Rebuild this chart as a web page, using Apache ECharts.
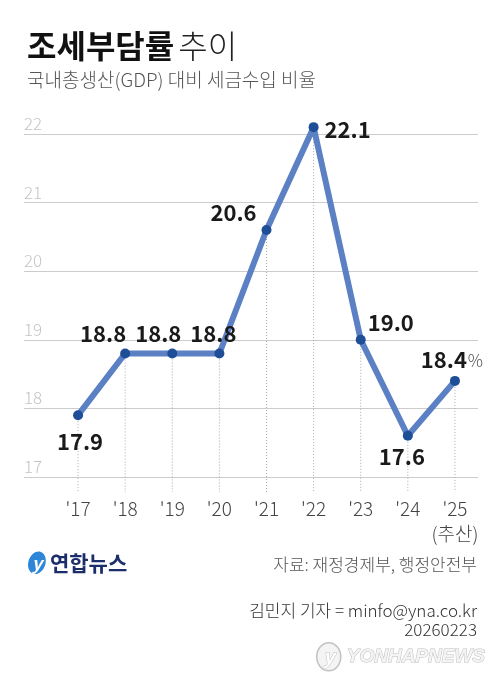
<!DOCTYPE html>
<html>
<head>
<meta charset="utf-8">
<script src="https://cdn.jsdelivr.net/npm/echarts@6/dist/echarts.min.js"></script>
<style>
  html, body { margin: 0; padding: 0; background: #fff; }
  #main { width: 499px; height: 687px; }
</style>
</head>
<body>
<div id="main"></div>
<script>
// data
var years = ["'17", "'18", "'19", "'20", "'21", "'22", "'23", "'24", "'25\n(추산)"];
var taxBurden = [17.9, 18.8, 18.8, 18.8, 20.6, 22.1, 19.0, 17.6, 18.4];
var yTicks = [17, 18, 19, 20, 21, 22];

// label placement around each point (dx, dy)
var labelOffsets = [[2, 26], [-22, -20], [-14, -20], [-6, -20], [-33, -17], [34, 3], [30, -17], [-6, 21], [-3, -21]];

var FONT = '"Noto Sans CJK KR", "Noto Sans", sans-serif';
var chartDom = document.getElementById('main');
var myChart = echarts.init(chartDom);
var option;

var lineData = taxBurden.map(function (v, i) {
  var item = { value: v, label: { offset: labelOffsets[i] } };
  if (i === taxBurden.length - 1) {
    item.label.formatter = '{v|' + v.toFixed(1) + '}{p|%}';
  }
  return item;
});

option = {
  backgroundColor: '#fff',
  textStyle: { fontFamily: FONT },
  title: {
    left: 22,
    top: 25,
    text: '{b|조세부담률} {r|추이}',
    subtext: '국내총생산(GDP) 대비 세금수입 비율',
    itemGap: 8,
    textStyle: {
      rich: {
        b: { fontFamily: FONT, fontSize: 32, fontWeight: 'bold', color: '#111' },
        r: { fontFamily: FONT, fontSize: 32, fontWeight: 300, color: '#222' }
      }
    },
    subtextStyle: { fontFamily: FONT, fontSize: 19, fontWeight: 300, color: '#555' }
  },
  grid: [
    { left: 24, right: 21, top: 134, bottom: 210 },
    { left: 54.5, right: 20.5, top: 99.7, bottom: 195 }
  ],
  xAxis: [
    { gridIndex: 0, type: 'value', show: false, min: 0, max: 1 },
    {
      gridIndex: 1,
      type: 'category',
      data: years,
      axisLine: { show: false },
      axisTick: { show: false },
      axisLabel: {
        interval: 0,
        margin: 4,
        fontSize: 19,
        fontWeight: 300,
        lineHeight: 25,
        color: '#444',
        fontFamily: FONT
      }
    }
  ],
  yAxis: [
    {
      gridIndex: 0,
      type: 'value',
      min: yTicks[0],
      max: yTicks[yTicks.length - 1],
      interval: 1,
      axisLine: { show: false },
      axisTick: { show: false },
      splitLine: { lineStyle: { color: '#cccccc', width: 1 } },
      axisLabel: {
        inside: true,
        margin: 0,
        verticalAlign: 'bottom',
        padding: [0, 0, 2, 0],
        fontSize: 17,
        fontWeight: 300,
        color: '#c4c4c4',
        fontFamily: FONT
      }
    },
    { gridIndex: 1, type: 'value', show: false, min: 16.78, max: 22.5 }
  ],
  series: [
    {
      name: 'drop',
      type: 'custom',
      xAxisIndex: 1,
      yAxisIndex: 1,
      z: 1,
      silent: true,
      renderItem: function (params, api) {
        var top = api.coord([api.value(0), api.value(1)]);
        var bottomY = params.coordSys.y + params.coordSys.height;
        return {
          type: 'line',
          shape: { x1: top[0], y1: top[1], x2: top[0], y2: bottomY },
          style: { stroke: '#a8a8a8', lineWidth: 1, lineDash: [1, 2] }
        };
      },
      data: taxBurden.map(function (v, i) { return [i, v]; })
    },
    {
      name: '조세부담률',
      type: 'line',
      xAxisIndex: 1,
      yAxisIndex: 1,
      z: 3,
      symbol: 'circle',
      symbolSize: 10,
      itemStyle: { color: '#1d4e97' },
      lineStyle: { color: '#5b80c3', width: 6 },
      label: {
        show: true,
        position: 'inside',
        align: 'center',
        verticalAlign: 'middle',
        fontSize: 22,
        fontWeight: 'bold',
        color: '#1a1a1a',
        fontFamily: FONT,
        formatter: function (p) { return p.value.toFixed(1); },
        rich: {
          v: { fontSize: 22, fontWeight: 'bold', color: '#1a1a1a', fontFamily: FONT },
          p: { fontSize: 17, fontWeight: 300, color: '#555', fontFamily: FONT, padding: [0, 0, -2, 1] }
        }
      },
      data: lineData
    }
  ],
  graphic: [
    // Yonhap logo
    {
      type: 'group',
      left: 25,
      top: 549,
      children: [
        {
          type: 'ellipse',
          shape: { cx: 9, cy: 12, rx: 8.5, ry: 11.5 },
          rotation: -0.35,
          originX: 9,
          originY: 12,
          style: { fill: '#2d86d6' }
        },
        {
          type: 'text',
          x: 9,
          y: 12,
          style: {
            text: 'y',
            fontSize: 18,
            fontStyle: 'italic',
            fontWeight: 'bold',
            fill: '#fff',
            align: 'center',
            verticalAlign: 'middle',
            fontFamily: FONT
          }
        },
        {
          type: 'text',
          x: 22,
          y: 12,
          style: {
            text: '연합뉴스',
            fontSize: 21,
            fontWeight: 'bold',
            fill: '#1b2d6b',
            verticalAlign: 'middle',
            fontFamily: FONT
          }
        }
      ]
    },
    {
      type: 'text',
      right: 22,
      top: 556,
      style: { text: '자료: 재정경제부, 행정안전부', fontSize: 17, fontWeight: 300, fill: '#555', fontFamily: FONT }
    },
    {
      type: 'text',
      right: 22,
      top: 602,
      style: { text: '김민지 기자 = minfo@yna.co.kr', fontSize: 17, fontWeight: 300, fill: '#333', fontFamily: FONT }
    },
    {
      type: 'text',
      right: 22,
      top: 621,
      style: { text: '20260223', fontSize: 17, fontWeight: 300, fill: '#333', fontFamily: FONT }
    },
    // watermark
    {
      type: 'group',
      left: 316,
      top: 642,
      children: [
        {
          type: 'ellipse',
          shape: { cx: 13, cy: 15, rx: 12, ry: 14 },
          style: { fill: '#f4f4f4', stroke: '#c2c2c2', lineWidth: 1.5 }
        },
        {
          type: 'text',
          x: 13,
          y: 15,
          style: {
            text: 'y',
            fontSize: 20,
            fontStyle: 'italic',
            fontWeight: 'bold',
            fill: '#ffffff',
            stroke: '#c2c2c2',
            lineWidth: 1,
            align: 'center',
            verticalAlign: 'middle',
            fontFamily: FONT
          }
        },
        {
          type: 'text',
          x: 31,
          y: 15,
          style: {
            text: 'YONHAPNEWS',
            fontSize: 19,
            fontWeight: 'bold',
            fontStyle: 'italic',
            fill: '#f4f4f4',
            stroke: '#bdbdbd',
            lineWidth: 1,
            verticalAlign: 'middle',
            fontFamily: '"Liberation Sans", sans-serif'
          }
        }
      ]
    }
  ]
};

option && myChart.setOption(option);
</script>
</body>
</html>
